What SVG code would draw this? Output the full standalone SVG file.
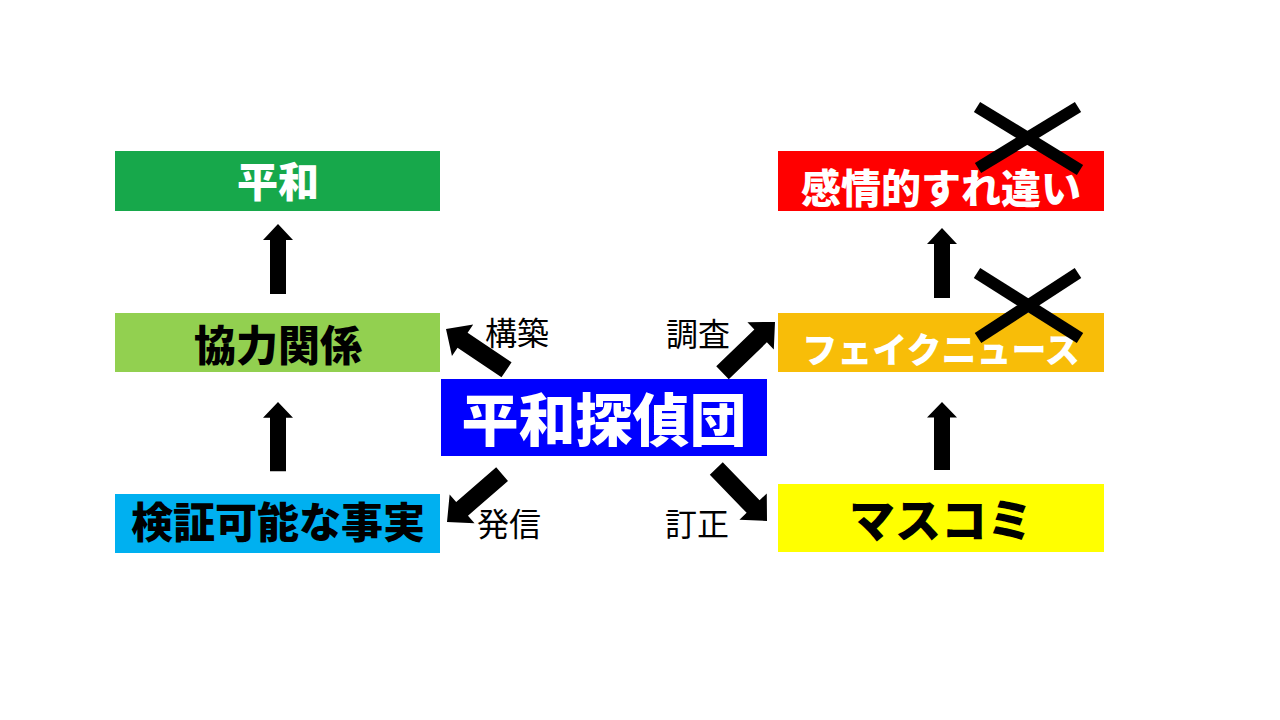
<svg xmlns="http://www.w3.org/2000/svg" width="1280" height="720" viewBox="0 0 1280 720">
<style>
.box{stroke:none}
.t{font-family:"Noto Sans CJK JP","Noto Sans CJK SC",sans-serif;font-weight:900;text-anchor:middle}
.lbl{font-family:"Noto Sans CJK JP","Noto Sans CJK SC",sans-serif;font-weight:400;font-size:32px;fill:#000}
.arr{fill:#000}
.x{stroke:#000;stroke-width:12;stroke-linecap:butt}
</style>
<defs>
<path id="up" d="M0,0 L15,16 L8,16 L8,70 L-8,70 L-8,16 L-15,16 Z"/>
<path id="diag" d="M0,0 L19,20 L9,20 L9,73 L-9,73 L-9,20 L-19,20 Z"/>
</defs>
<rect width="1280" height="720" fill="#fff"/>
<g id="heiwa"><rect class="box" x="115" y="151" width="325" height="60" fill="#17a84b"/><text class="t" x="278" y="197" font-size="41" fill="#fff">平和</text></g>
<g id="kyouryoku"><rect class="box" x="115" y="313" width="325" height="59" fill="#92d050"/><text class="t" x="278" y="361" font-size="42" fill="#000">協力関係</text></g>
<g id="kenshou"><rect class="box" x="115" y="494" width="325" height="59" fill="#00b0f0"/><text class="t" x="278" y="538" font-size="42" fill="#000">検証可能な事実</text></g>
<g id="tanteidan"><rect class="box" x="441" y="379" width="326" height="77" fill="#0000ff"/><text class="t" x="604" y="441" font-size="57" fill="#fff">平和探偵団</text></g>
<g id="kanjou"><rect class="box" x="778" y="151" width="326" height="60" fill="#ff0000"/><text class="t" x="941" y="203" font-size="40" fill="#fff">感情的すれ違い</text></g>
<g id="fake"><rect class="box" x="778" y="313" width="326" height="59" fill="#f8bd08"/><text class="t" x="941" y="363" font-size="35" fill="#fff">フェイクニュース</text></g>
<g id="masukomi"><rect class="box" x="778" y="484" width="326" height="68" fill="#ffff00"/><text class="t" x="941" y="537" font-size="46" fill="#000">マスコミ</text></g>
<g id="connectors">
<use href="#up" class="arr" transform="translate(278,224)"/>
<use href="#up" class="arr" transform="translate(278,402) scale(1,0.99)"/>
<use href="#up" class="arr" transform="translate(942,228)"/>
<use href="#up" class="arr" transform="translate(942,402) scale(1,0.97)"/>
<use href="#diag" class="arr" transform="translate(446,329) rotate(-56)"/>
<use href="#diag" class="arr" transform="translate(775,322) rotate(46)"/>
<use href="#diag" class="arr" transform="translate(447,522) rotate(-131)"/>
<use href="#diag" class="arr" transform="translate(767,521) rotate(136)"/>
</g>
<g id="labels">
<text class="lbl" x="485" y="345">構築</text>
<text class="lbl" x="666" y="346">調査</text>
<text class="lbl" x="477" y="536">発信</text>
<text class="lbl" x="665" y="536">訂正</text>
</g>
<g id="crosses">
<line class="x" x1="977" y1="107" x2="1080" y2="170"/>
<line class="x" x1="1078" y1="107" x2="978" y2="168"/>
<line class="x" x1="977" y1="273" x2="1080" y2="338"/>
<line class="x" x1="1078" y1="273" x2="978" y2="338"/>
</g>
</svg>
